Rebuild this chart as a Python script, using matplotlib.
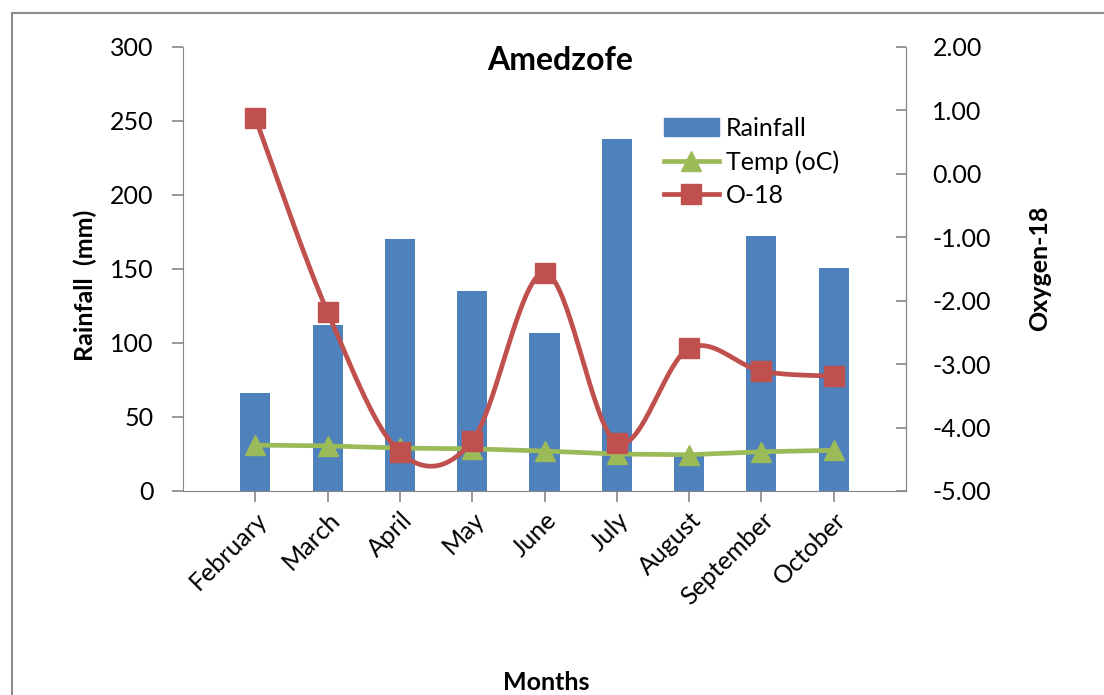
import numpy as np
import matplotlib
matplotlib.use('Agg')
import matplotlib.pyplot as plt
from matplotlib.patches import Rectangle, Patch
from matplotlib.lines import Line2D
from matplotlib.ticker import FormatStrFormatter

plt.rcParams['font.family'] = ['Lato', 'DejaVu Sans']

months = ['February', 'March', 'April', 'May', 'June', 'July', 'August', 'September', 'October']
rainfall = [66, 112, 170, 135, 107, 238, 26, 172, 151]
temp = [31, 30.5, 29, 28.5, 27, 25, 24.5, 26.5, 27.5]
o18 = [0.88, -2.18, -4.39, -4.21, -1.56, -4.24, -2.75, -3.11, -3.19]

BLUE = '#4F81BD'
GREEN = '#9BBB59'
RED = '#C0504D'
GREY = '#868686'


def smooth(x, y, n=40):
    # Catmull-Rom style curve through the points (like Excel's smoothed line)
    x = np.asarray(x, float); y = np.asarray(y, float)
    px = np.concatenate([[x[0]], x, [x[-1]]])
    py = np.concatenate([[y[0]], y, [y[-1]]])
    xs, ys = [], []
    for i in range(1, len(px) - 2):
        p0, p1, p2, p3 = (np.array([px[j], py[j]]) for j in (i - 1, i, i + 1, i + 2))
        c1 = p1 + (p2 - p0) / 6
        c2 = p2 - (p3 - p1) / 6
        t = np.linspace(0, 1, n)[:, None]
        b = (1 - t)**3 * p1 + 3 * (1 - t)**2 * t * c1 + 3 * (1 - t) * t**2 * c2 + t**3 * p2
        xs.extend(b[:, 0]); ys.extend(b[:, 1])
    return np.array(xs), np.array(ys)


W, H = 1104, 695
fig = plt.figure(figsize=(W/100, H/100), dpi=100)
ax1 = fig.add_axes([183/W, 1-491/H, (906-183)/W, (491-47)/H])
ax2 = ax1.twinx()

# outer chart border
fig.patches.append(Rectangle((12/W, -0.1), 1.2, 1-13/H+0.1, transform=fig.transFigure,
                             fill=False, edgecolor='#8c8c8c', lw=1.5))

x = np.arange(1, len(months) + 1)
ax1.bar(x, rainfall, width=0.415, color=BLUE, zorder=2)
ax1.plot(x, temp, color=GREEN, lw=3.4, marker='^', markersize=15, zorder=3)

sx, sy = smooth(x, o18)
ax2.plot(sx, sy, color=RED, lw=3.4, zorder=3)
ax2.plot(x, o18, ls='none', marker='s', markersize=14, color=RED, zorder=4)

ax1.set_xlim(0, 10)
ax1.set_ylim(0, 300)
ax1.set_yticks(np.arange(0, 301, 50))
ax2.set_ylim(-5, 2)
ax2.set_yticks(np.arange(-5, 2.1, 1))
ax2.yaxis.set_major_formatter(FormatStrFormatter('%.2f'))

ax1.set_xticks(x)
ax1.set_xticklabels(months, rotation=45, ha='right', rotation_mode='anchor', fontsize=18)

for ax in (ax1, ax2):
    for s in ax.spines.values():
        s.set_color(GREY)
    ax.spines['top'].set_visible(False)
ax2.spines['left'].set_visible(False)
ax2.spines['bottom'].set_visible(False)

ax1.tick_params(axis='y', colors=GREY, labelcolor='black', labelsize=18,
                direction='out', length=8, width=1.2, pad=13)
ax1.tick_params(axis='x', colors=GREY, labelcolor='black', labelsize=18,
                direction='out', length=8, width=1.2, pad=4)
ax2.tick_params(axis='y', colors=GREY, labelcolor='black', labelsize=18,
                direction='in', length=7, width=1.2, pad=19)

fig.text(85/W, 1-285/H, 'Rainfall  (mm)', fontsize=18, fontweight='bold',
         rotation=90, ha='center', va='center')
fig.text(1040/W, 1-268/H, 'Oxygen-18', fontsize=18, fontweight='bold',
         rotation=90, ha='center', va='center')
fig.text(546/W, 1-683/H, 'Months', fontsize=18, fontweight='bold', ha='center', va='center')
fig.text(560/W, 1-60/H, 'Amedzofe', fontsize=23, fontweight='bold', ha='center', va='center')

handles = [Patch(color=BLUE),
           Line2D([], [], color=GREEN, lw=3.4, marker='^', markersize=15),
           Line2D([], [], color=RED, lw=3.4, marker='s', markersize=14)]
ax2.legend(handles, ['Rainfall', 'Temp (oC)', 'O-18'], loc='upper left',
           bbox_to_anchor=((651-183)/723, (491-104)/444), frameon=False, fontsize=18,
           handlelength=2.2, handletextpad=0.3, labelspacing=0.42, borderpad=0)

fig.savefig('out.png', dpi=100)
